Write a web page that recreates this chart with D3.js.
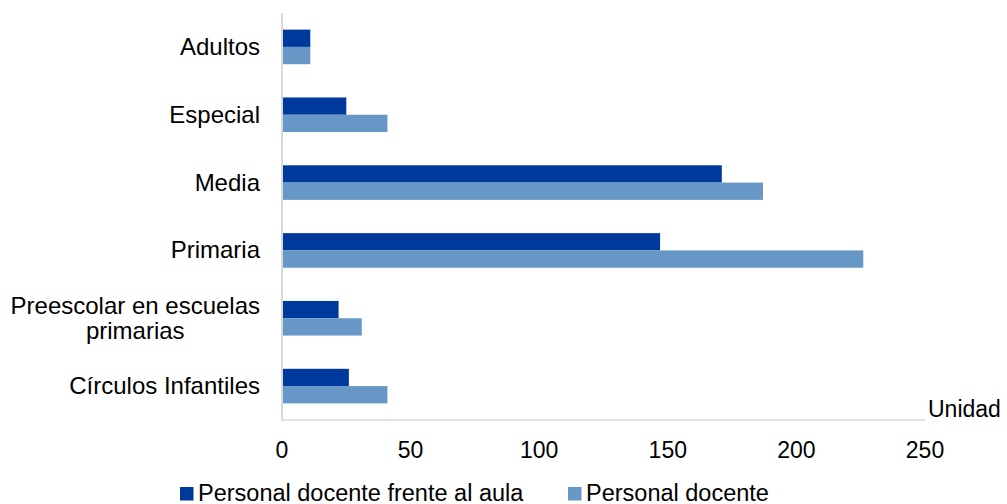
<!DOCTYPE html>
<html>
<head>
<meta charset="utf-8">
<script src="https://cdn.jsdelivr.net/npm/d3@7"></script>
<style>
  body { margin: 0; background: #fff; }
  svg text { font-family: "Liberation Sans", Arial, sans-serif; fill: #000; }
</style>
</head>
<body>
<svg id="chart" width="1007" height="504"></svg>
<script>
// data (units)
const categories = ["Adultos", "Especial", "Media", "Primaria", "Preescolar en escuelas primarias", "Círculos Infantiles"];
const frenteAlAula = [11, 25, 171, 147, 22, 26];
const personalDocente = [11, 41, 187, 226, 31, 41];
const seriesNames = ["Personal docente frente al aula", "Personal docente"];
const seriesColors = ["#00399c", "#6697c7"];
const xTicks = [0, 50, 100, 150, 200, 250];

const svg = d3.select("#chart");

const x = d3.scaleLinear().domain([0, 250]).range([282, 925]);

const y = d3.scaleBand()
  .domain(categories)
  .range([13, 420])
  .paddingInner(0.49)
  .paddingOuter(0.245);

const ySub = d3.scaleBand()
  .domain(seriesNames)
  .range([0, y.bandwidth()]);

const rows = categories.map((c, i) => ({cat: c, values: [frenteAlAula[i], personalDocente[i]]}));

// bars
const groups = svg.append("g").selectAll("g")
  .data(rows)
  .enter()
  .append("g")
  .attr("transform", d => "translate(0," + y(d.cat) + ")");

groups.selectAll("rect")
  .data(d => d.values.map((v, j) => ({v: v, s: seriesNames[j], color: seriesColors[j]})))
  .enter()
  .append("rect")
  .attr("x", x(0))
  .attr("y", d => ySub(d.s))
  .attr("width", d => x(d.v) - x(0))
  .attr("height", ySub.bandwidth())
  .attr("fill", d => d.color);

// axis lines
svg.append("line")
  .attr("x1", x(0)).attr("x2", x(0))
  .attr("y1", 13).attr("y2", 420)
  .attr("stroke", "#d9d9d9").attr("stroke-width", 2);

svg.append("line")
  .attr("x1", x(0) - 1).attr("x2", x(250))
  .attr("y1", 420).attr("y2", 420)
  .attr("stroke", "#d9d9d9").attr("stroke-width", 1.5);

// x tick labels
svg.append("g").selectAll("text")
  .data(xTicks)
  .enter()
  .append("text")
  .attr("x", d => x(d))
  .attr("y", 458)
  .attr("text-anchor", "middle")
  .style("font-size", "23px")
  .text(d => d);

svg.append("text")
  .attr("x", 928)
  .attr("y", 417)
  .style("font-size", "23px")
  .text("Unidad");

// category labels (wrap the long one into two centred lines)
const labelLines = {
  "Preescolar en escuelas primarias": ["Preescolar en escuelas", "primarias"]
};

categories.forEach(c => {
  const cy = y(c) + y.bandwidth() / 2;
  const lines = labelLines[c] || [c];
  const t = svg.append("text")
    .style("font-size", "24px")
    .attr("text-anchor", lines.length > 1 ? "middle" : "end");
  lines.forEach((l, k) => {
    t.append("tspan")
      .attr("y", cy + 8 + (k - (lines.length - 1) / 2) * 24.5)
      .text(l);
  });
  if (lines.length > 1) {
    const w = d3.max(t.selectAll("tspan").nodes(), n => n.getComputedTextLength());
    t.selectAll("tspan").attr("x", 260 - w / 2);
  } else {
    t.selectAll("tspan").attr("x", 260);
  }
});

// legend
const legendX = [180, 568];
const legend = svg.append("g");
seriesNames.forEach((s, i) => {
  legend.append("rect")
    .attr("x", legendX[i]).attr("y", 487)
    .attr("width", 13.5).attr("height", 13.5)
    .attr("fill", seriesColors[i]);
  legend.append("text")
    .attr("x", legendX[i] + 18).attr("y", 500.5)
    .style("font-size", "23.5px")
    .text(s);
});
</script>
</body>
</html>
